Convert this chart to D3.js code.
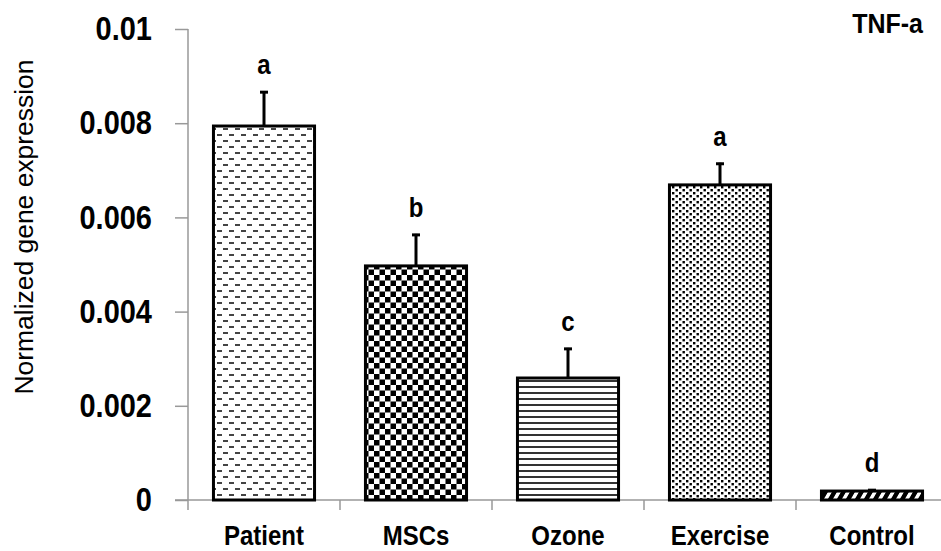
<!DOCTYPE html>
<html><head><meta charset="utf-8">
<script src="https://cdn.jsdelivr.net/npm/d3@7"></script>
<style>body{margin:0;background:#fff;} svg{display:block;}</style>
</head><body>
<svg id="chart" width="941" height="551"></svg>
<script>
const categories = ["Patient", "MSCs", "Ozone", "Exercise", "Control"];
const values = [0.00794, 0.00497, 0.00259, 0.00669, 0.00019];
const errors = [0.00074, 0.00068, 0.00064, 0.00047, 0.00004];
const letters = ["a", "b", "c", "a", "d"];
const yTicks = [0, 0.002, 0.004, 0.006, 0.008, 0.01];
const yTickLabels = ["0", "0.002", "0.004", "0.006", "0.008", "0.01"];
const patterns = ["pDash", "pCheck", "pLines", "pDots", "pHatch"];

const svg = d3.select("#chart");
const FONT = "'Liberation Sans', Arial, sans-serif";
const defs = svg.append("defs");

// Patterns
let p = defs.append("pattern").attr("id","pDash").attr("patternUnits","userSpaceOnUse").attr("width",12).attr("height",12);
p.append("rect").attr("width",12).attr("height",12).attr("fill","#fff");
p.append("rect").attr("x",1).attr("y",2).attr("width",5).attr("height",2).attr("fill","#444");
p.append("rect").attr("x",7).attr("y",8).attr("width",5).attr("height",2).attr("fill","#444");

p = defs.append("pattern").attr("id","pCheck").attr("patternUnits","userSpaceOnUse").attr("width",11).attr("height",11);
p.append("rect").attr("width",11).attr("height",11).attr("fill","#fff");
p.append("rect").attr("x",0).attr("y",0).attr("width",5.5).attr("height",5.5).attr("fill","#000");
p.append("rect").attr("x",5.5).attr("y",5.5).attr("width",5.5).attr("height",5.5).attr("fill","#000");

p = defs.append("pattern").attr("id","pLines").attr("patternUnits","userSpaceOnUse").attr("width",10).attr("height",6);
p.append("rect").attr("width",10).attr("height",6).attr("fill","#fff");
p.append("rect").attr("x",0).attr("y",2).attr("width",10).attr("height",2).attr("fill","#333");

p = defs.append("pattern").attr("id","pDots").attr("patternUnits","userSpaceOnUse").attr("width",7).attr("height",6);
p.append("rect").attr("width",7).attr("height",6).attr("fill","#fff");
p.append("rect").attr("x",0).attr("y",0).attr("width",2.4).attr("height",2.4).attr("fill","#000");
p.append("rect").attr("x",3.5).attr("y",3).attr("width",2.4).attr("height",2.4).attr("fill","#000");

p = defs.append("pattern").attr("id","pHatch").attr("patternUnits","userSpaceOnUse").attr("width",9).attr("height",9).attr("patternTransform","skewX(-30)");
p.append("rect").attr("width",9).attr("height",9).attr("fill","#fff");
p.append("rect").attr("x",0).attr("y",0).attr("width",5).attr("height",9).attr("fill","#000");

const y = d3.scaleLinear().domain([0, 0.01]).range([500, 29]);
const x = d3.scaleBand().domain(categories).range([188, 948]).paddingInner(0.335).paddingOuter(0.1675);

// Y axis
const yAxis = d3.axisLeft(y).tickValues(yTicks).tickSize(13).tickFormat((d,i)=>yTickLabels[i]);
const ga = svg.append("g").attr("transform","translate(188,0)").call(yAxis);
ga.select(".domain").remove();
ga.selectAll(".tick line").attr("stroke","#999").attr("stroke-width",1.5);
ga.selectAll(".tick text").remove();
svg.append("line").attr("x1",188).attr("x2",188).attr("y1",y(0.01)).attr("y2",510).attr("stroke","#999").attr("stroke-width",1.5);
yTicks.forEach((t,i)=>{
  svg.append("g").attr("transform",`translate(152,${y(t)}) scale(1,1.12)`)
    .append("text").attr("x",0).attr("y",10).attr("text-anchor","end")
    .attr("font-family",FONT).attr("font-weight","bold").attr("font-size",29).attr("fill","#000")
    .text(yTickLabels[i]);
});

// X axis line
svg.append("line").attr("x1",175).attr("x2",941).attr("y1",y(0)).attr("y2",y(0)).attr("stroke","#999").attr("stroke-width",1.5);
const step = x.step();
categories.slice(1).forEach(c=>{
  const xb = x(c) - x.paddingInner()*step/2;
  svg.append("line").attr("x1",xb).attr("x2",xb).attr("y1",y(0)).attr("y2",510).attr("stroke","#999").attr("stroke-width",1.5);
});

// Bars
svg.selectAll("rect.bar").data(categories).enter().append("rect").attr("class","bar")
  .attr("x",d=>x(d)).attr("width",x.bandwidth())
  .attr("y",(d,i)=>y(values[i])).attr("height",(d,i)=>y(0)-y(values[i]))
  .attr("fill",(d,i)=>`url(#${patterns[i]})`).attr("stroke","#000").attr("stroke-width",3);

// Error bars
categories.forEach((c,i)=>{
  const cx = x(c)+x.bandwidth()/2;
  const top = y(values[i]+errors[i]);
  svg.append("line").attr("x1",cx).attr("x2",cx).attr("y1",y(values[i])).attr("y2",top).attr("stroke","#000").attr("stroke-width",3);
  svg.append("line").attr("x1",cx-4).attr("x2",cx+4).attr("y1",top+1).attr("y2",top+1).attr("stroke","#000").attr("stroke-width",3);
  svg.append("g").attr("transform",`translate(${cx},${top-17}) scale(1,1.12)`)
    .append("text").attr("text-anchor","middle")
    .attr("font-family",FONT).attr("font-weight","bold").attr("font-size",24).attr("fill","#000")
    .text(letters[i]);
  svg.append("g").attr("transform",`translate(${cx},545) scale(1,1.15)`)
    .append("text").attr("text-anchor","middle")
    .attr("font-family",FONT).attr("font-weight","bold").attr("font-size",24).attr("fill","#000")
    .text(c);
});

// Title
svg.append("g").attr("transform","translate(923,33) scale(1,1.13)")
  .append("text").attr("text-anchor","end").attr("font-family",FONT).attr("font-weight","bold").attr("font-size",25).attr("fill","#000").text("TNF-a");

// Y title
svg.append("text").attr("transform","translate(33,227) rotate(-90)").attr("text-anchor","middle")
  .attr("font-family",FONT).attr("font-size",26).attr("fill","#000")
  .attr("textLength",335).attr("lengthAdjust","spacingAndGlyphs")
  .text("Normalized gene expression");
</script>
</body></html>
